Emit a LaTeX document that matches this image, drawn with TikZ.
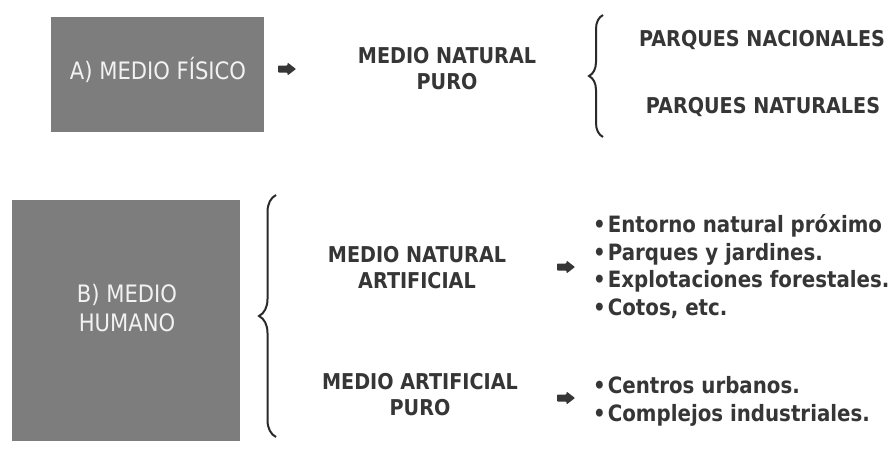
\documentclass[tikz,border=0pt]{standalone}
\usepackage{fontspec}
\setmainfont{DejaVu Sans}[FakeStretch=0.88]
\usetikzlibrary{decorations.pathreplacing}
\definecolor{boxgray}{HTML}{7D7D7D}
\definecolor{txt}{HTML}{363636}
\definecolor{boxtxt}{HTML}{F2F2F2}
\definecolor{bracecol}{HTML}{2A2A2A}
\begin{document}
\begin{tikzpicture}[x=1pt,y=-1pt,
  graybox/.style={fill=boxgray, draw=none, inner sep=0pt, anchor=north west},
  boxlabel/.style={text=boxtxt, font=\fontsize{24}{29}\selectfont, align=center, inner sep=0pt},
  heading/.style={text=txt, font=\bfseries\fontsize{21.8}{26}\selectfont, align=center, inner sep=0pt},
  listtext/.style={text=txt, font=\bfseries\fontsize{22.5}{27.7}\selectfont, align=left, inner sep=0pt, anchor=west},
  fatarrow/.pic={\fill[txt, rounded corners=0.8pt] (-9,-3.5) -- (0.5,-3.5) -- (0.5,-6.5) -- (9,0) -- (0.5,6.5) -- (0.5,3.5) -- (-9,3.5) -- cycle;},
  bracestyle/.style={draw=bracecol, line width=2pt, decorate}
]
\useasboundingbox (0,0) rectangle (894,448);
\fill[white] (0,0) rectangle (894,448);

% Section A
\node[graybox, minimum width=213pt, minimum height=115pt] (boxA) at (51,17) {};
\node[boxlabel] (labA) at (158,70) {A) MEDIO FÍSICO};
\coordinate (arrA) at (287,69);
\pic at (arrA) {fatarrow};
\node[heading] (natpuro) at (447,68.5) {MEDIO NATURAL\\PURO};
\coordinate (braceAbot) at (603,137);
\coordinate (braceAtop) at (603,15);
\draw[bracestyle, decoration={brace, amplitude=14pt}] (braceAbot) -- (braceAtop);
\node[heading] (pnac) at (762,40) {PARQUES NACIONALES};
\node[heading] (pnat) at (763,107) {PARQUES NATURALES};

% Section B
\node[graybox, minimum width=228pt, minimum height=241pt] (boxB) at (12,200) {};
\node[boxlabel] (labB) at (127,308) {B) MEDIO\\HUMANO};
\coordinate (braceBbot) at (276,437);
\coordinate (braceBtop) at (276,195);
\draw[bracestyle, decoration={brace, amplitude=17pt}] (braceBbot) -- (braceBtop);
\node[heading] (natart) at (417,267.5) {MEDIO NATURAL\\ARTIFICIAL};
\node[heading] (artpuro) at (420,394.5) {MEDIO ARTIFICIAL\\PURO};
\coordinate (arrB1) at (566,267);
\pic at (arrB1) {fatarrow};
\coordinate (arrB2) at (566,398);
\pic at (arrB2) {fatarrow};
\node[listtext] (list1) at (593,266.5) {•\hspace{2pt}Entorno natural próximo\\•\hspace{2pt}Parques y jardines.\\•\hspace{2pt}Explotaciones forestales.\\•\hspace{2pt}Cotos, etc.};
\node[listtext] (list2) at (593,401.5) {•\hspace{2pt}Centros urbanos.\\•\hspace{2pt}Complejos industriales.};
\end{tikzpicture}
\end{document}
